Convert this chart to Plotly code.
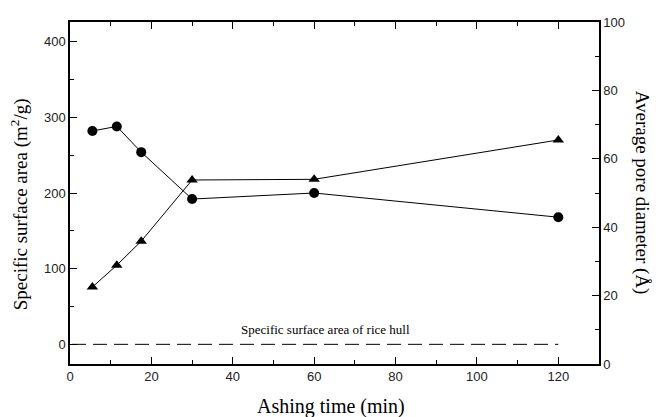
import plotly.graph_objects as go

ashing_time = [5.5, 11.5, 17.5, 30, 60, 120]
surface_area = [282, 288, 254, 192, 200, 168]
pore_diameter = [22.5, 28.9, 35.9, 53.8, 54.0, 65.5]
hull_x = [0.5, 120]
hull_area = [0, 0]

fig = go.Figure()
fig.add_trace(go.Scatter(x=ashing_time, y=surface_area, mode="lines+markers",
                         line=dict(color="black", width=1),
                         marker=dict(symbol="circle", size=10, color="black"),
                         yaxis="y", showlegend=False))
fig.add_trace(go.Scatter(x=ashing_time, y=pore_diameter, mode="lines+markers",
                         line=dict(color="black", width=1),
                         marker=dict(symbol="triangle-up", size=10, color="black"),
                         yaxis="y2", showlegend=False))
fig.add_trace(go.Scatter(x=hull_x, y=hull_area, mode="lines",
                         line=dict(color="black", width=1, dash="14px,7px"),
                         yaxis="y", showlegend=False))

tickfont = dict(family="Liberation Sans, Arial", size=13, color="#222")
# page body has an 8px margin, so the figure's origin sits at (8, 8)
fig.update_layout(
    width=660, height=417,
    margin=dict(l=62, r=69, t=7, b=61),
    paper_bgcolor="white", plot_bgcolor="white",
    xaxis=dict(range=[0, 130], tickvals=[0, 20, 40, 60, 80, 100, 120],
               ticks="inside", ticklen=7, tickwidth=1.3, tickcolor="black",
               minor=dict(dtick=10, ticks="inside", ticklen=4, tickcolor="black"),
               showline=True, linecolor="black", linewidth=1.5, mirror="ticks",
               showgrid=False, zeroline=False, tickfont=tickfont),
    yaxis=dict(range=[-26, 426], tickvals=[0, 100, 200, 300, 400],
               ticks="inside", ticklen=7, tickwidth=1.3, tickcolor="black",
               minor=dict(dtick=50, ticks="inside", ticklen=4, tickcolor="black"),
               showline=True, linecolor="black", linewidth=1.5,
               showgrid=False, zeroline=False, tickfont=tickfont),
    yaxis2=dict(range=[0, 100], overlaying="y", side="right",
                tickvals=[0, 20, 40, 60, 80, 100],
                ticks="inside", ticklen=7, tickwidth=1.3, tickcolor="black",
                minor=dict(dtick=10, ticks="inside", ticklen=4, tickcolor="black"),
                showline=True, linecolor="black", linewidth=1.5,
                showgrid=False, zeroline=False, tickfont=tickfont),
)

serif = "Liberation Serif, Times New Roman"
fig.add_annotation(text="Ashing time (min)", xref="paper", yref="paper",
                   x=0.493, y=0, yshift=-42, xanchor="center", yanchor="middle",
                   showarrow=False, font=dict(family=serif, size=20, color="black"))
fig.add_annotation(text="Specific surface area (m<sup>2</sup>/g)", xref="paper", yref="paper",
                   x=0, xshift=-51, y=0.467, xanchor="center", yanchor="middle",
                   textangle=-90, showarrow=False,
                   font=dict(family=serif, size=19, color="black"))
fig.add_annotation(text="Average pore diameter (Å)", xref="paper", yref="paper",
                   x=1, xshift=43, y=0.501, xanchor="center", yanchor="middle",
                   textangle=90, showarrow=False,
                   font=dict(family=serif, size=19, color="black"))
fig.add_annotation(text="Specific surface area of rice hull", x=62.8, y=19,
                   xref="x", yref="y", showarrow=False,
                   font=dict(family=serif, size=13, color="black"))

fig.write_html("out.html")
